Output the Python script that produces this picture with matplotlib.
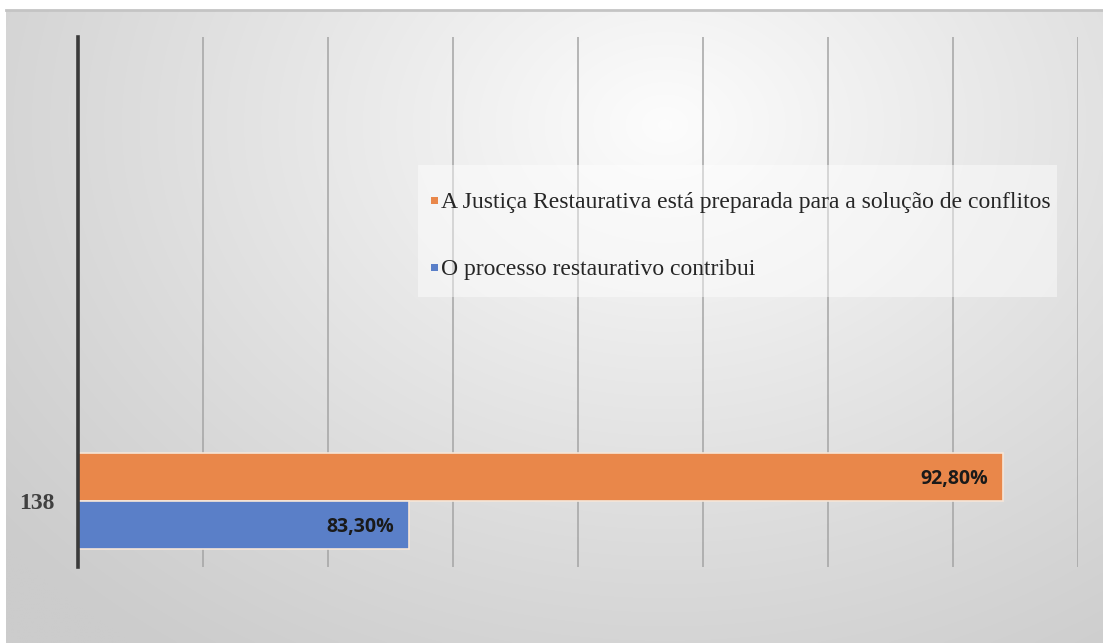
import numpy as np
import matplotlib
matplotlib.use("Agg")
import matplotlib.pyplot as plt
from matplotlib.patches import Rectangle

# Data
categories = ["138"]
series_names = [
    "A Justiça Restaurativa está preparada para a solução de conflitos",
    "O processo restaurativo contribui",
]
series_values = [92.8, 83.3]
series_labels = ["92,80%", "83,30%"]
series_colors = ["#E9874A", "#5A7FC8"]

W, H = 1103, 643
fig = plt.figure(figsize=(W / 100, H / 100), dpi=100)
fig.patch.set_facecolor("white")

# Gradient chart-area background
bg = fig.add_axes([6 / W, 0, 1 - 6 / W, 1 - 10 / H], zorder=0)
ny, nx = 320, 550
yy, xx = np.mgrid[0:ny, 0:nx]
cx, cy = 0.60 * nx, 0.18 * ny
d = np.sqrt(((xx - cx) / nx) ** 2 + ((yy - cy) / ny * 0.75) ** 2)
d = np.clip(d / 0.78, 0, 1)
lo, hi = 0.99, 0.80
val = hi + (lo - hi) * (1 - d) ** 1.1
img = np.dstack([val, val, val])
bg.imshow(img, aspect="auto", extent=[0, 1, 0, 1], interpolation="bilinear")
bg.set_xlim(0, 1)
bg.set_ylim(0, 1)
bg.axis("off")
bg.plot([0, 1], [1, 1], color="#c4c4c4", lw=2, transform=bg.transAxes, clip_on=False)

# Main axes
left, right, top, bottom = 78, 1078, 37, 567
ax = fig.add_axes([left / W, 1 - bottom / H, (right - left) / W, (bottom - top) / H], zorder=1)
ax.patch.set_alpha(0)

bar_h = 0.5
y0 = np.arange(len(categories))
offsets = [bar_h / 2, -bar_h / 2]
for name, v, lab, col, off in zip(series_names, series_values, series_labels, series_colors, offsets):
    bars = ax.barh(y0 + off, [v - 78], left=78, height=bar_h, color=col,
                   edgecolor="#f6e6d8", linewidth=1.2, zorder=3, label=name)
    for b in bars:
        ax.text(b.get_x() + b.get_width() - 0.24, b.get_y() + b.get_height() / 2 - 0.025, lab,
                ha="right", va="center", fontsize=14, fontweight="bold",
                family="Open Sans", color="#1a1a1a", zorder=4)

ax.set_xlim(78, 94)
ax.set_ylim(-0.6875, 4.833)
ax.set_xticks(np.arange(78, 95, 2))
ax.set_xticklabels([])
ax.tick_params(axis="x", length=0)
ax.grid(axis="x", color="#a4a4a4", linewidth=1.1, zorder=1)
ax.set_yticks(y0)
ax.set_yticklabels(categories)
for t in ax.get_yticklabels():
    t.set_fontfamily("Liberation Serif")
    t.set_fontweight("bold")
    t.set_fontsize(17)
    t.set_color("#404040")
    t.set_y(-0.03)
ax.tick_params(axis="y", length=0, pad=17)
for s in ["top", "right", "bottom"]:
    ax.spines[s].set_visible(False)
ax.spines["left"].set_color("#3a3a3a")
ax.spines["left"].set_linewidth(2.6)
ax.spines["left"].set_zorder(5)

# Legend panel (figure pixel coordinates, origin top-left)
def fx(px):
    return px / W

def fy(py):
    return 1 - py / H

fig.patches.append(Rectangle((fx(418), fy(297)), fx(1057) - fx(418), fy(165) - fy(297),
                             transform=fig.transFigure, facecolor="white", alpha=0.45,
                             edgecolor="none", zorder=2))
row_y = [200, 267]
sq = 7
for name, col, ry in zip(series_names, series_colors, row_y):
    fig.patches.append(Rectangle((fx(431), fy(ry + sq / 2)), sq / W, sq / H,
                                 transform=fig.transFigure, facecolor=col,
                                 edgecolor="none", zorder=3))
    fig.text(fx(441), fy(ry), name, ha="left", va="center_baseline",
             family="Liberation Serif", fontsize=17, color="#262626", zorder=3)

fig.savefig("out.png", dpi=100)
